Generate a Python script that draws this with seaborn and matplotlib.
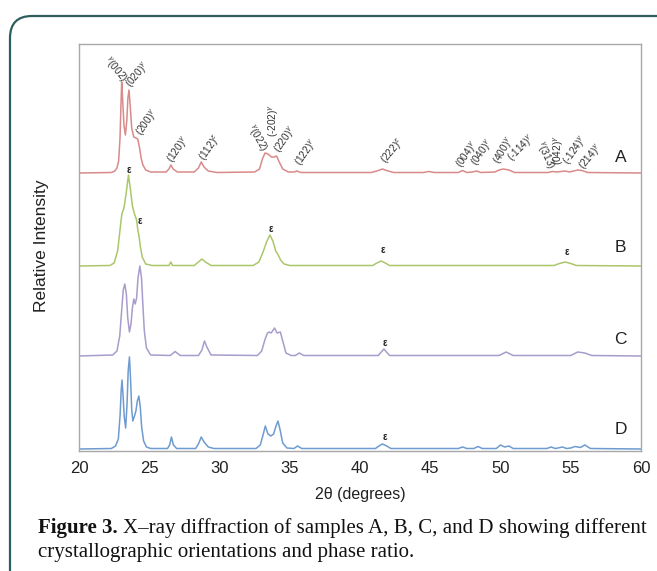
import matplotlib
matplotlib.use("Agg")
import matplotlib.pyplot as plt
from matplotlib.patches import FancyBboxPatch
import seaborn as sns
import pandas as pd

sns.set_theme(style="white")
plt.rcParams['font.family'] = ['Liberation Sans', 'DejaVu Sans']

# ---------------- data ----------------
samples = ["A", "B", "C", "D"]
offsets = [278, 185, 95, 2]          # vertical stacking offset of each pattern
colors = ["#d98a8a", "#acc66a", "#a89ccb", "#6e9bd0"]

A_x = [20, 22.3, 22.55, 22.7, 22.82, 22.92, 22.98, 23.04, 23.1, 23.2, 23.3, 23.4, 23.48, 23.56, 23.64,
       23.75, 23.9, 24.05, 24.18, 24.3, 24.42, 24.55, 24.75, 25.1,
       26.2, 26.4, 26.54, 26.7, 27.0, 28.2, 28.5, 28.7, 28.9, 29.2, 29.8, 32.5, 32.85, 33.05, 33.24,
       33.45, 33.7, 33.9, 34.06, 34.25, 34.5, 34.9, 35.3, 35.5, 35.8, 40.8, 41.2, 41.6, 42.0, 42.4,
       44.5, 44.9, 45.3, 47.0, 47.3, 47.6, 48.0, 48.3, 48.6, 49.6, 49.9, 50.2, 50.6, 51.0, 53.4,
       53.7, 54.0, 54.3, 54.6, 54.9, 55.2, 55.5, 55.8, 56.2, 60]
A_y = [0, 0.5, 2, 5, 12, 35, 65, 91, 75, 48, 38, 52, 75, 83, 68, 45, 36, 35, 34, 26, 15, 8, 3, 1,
       1, 4, 8, 4, 1, 1, 5, 11, 6, 2, 0.5, 1, 4, 14, 20, 19, 16, 16, 17, 11, 4, 1, 1, 2, 0.5,
       0.5, 2, 4, 2, 0.5, 0.5, 1.5, 0.5, 0.5, 2.5, 0.5, 1, 2, 0.5, 1, 3, 4, 3, 0.5, 0.5,
       1.5, 1, 1.5, 2, 1, 2, 3, 2.5, 0.5, 0]

B_x = [20, 22.2, 22.5, 22.75, 22.95, 23.05, 23.2, 23.35, 23.52, 23.65, 23.8, 23.95, 24.1, 24.2, 24.28,
       24.36, 24.5, 24.75, 25.2, 26.4, 26.54, 26.65, 28.2, 28.5, 28.75, 29.0, 29.4, 32.4, 32.8, 33.1, 33.35,
       33.59, 33.8, 34.0, 34.18, 34.35, 34.6, 35.0, 40.9, 41.2, 41.5, 41.8, 42.1, 53.8, 54.2, 54.6, 55.0,
       55.4, 60]
B_y = [0, 0.5, 3, 15, 40, 52, 58, 72, 91, 78, 60, 52, 46, 35, 29, 20, 9, 2, 0.5, 0.5, 4, 0.5, 0.5, 4, 7,
       4, 0.5, 0.5, 4, 14, 24, 31, 25, 15, 11, 6, 2, 0.5, 0.5, 3, 5, 3, 0.5, 0.5, 2.5, 4, 2.5, 0.5, 0]

C_x = [20, 22.4, 22.7, 22.9, 23.05, 23.15, 23.26, 23.37, 23.47, 23.59, 23.7, 23.8, 23.9, 24.0, 24.1,
       24.2, 24.33, 24.45, 24.55, 24.65, 24.8, 25.1,
       26.5, 26.84, 27.2, 28.5, 28.75, 28.93, 29.1, 29.4, 32.7, 33.0, 33.25, 33.42, 33.55,
       33.68, 33.92, 34.1, 34.33, 34.5, 34.73, 35.1, 35.4, 35.68, 36.0, 41.3, 41.7, 42.1, 49.9, 50.4, 50.9,
       55.0, 55.5, 56.0, 56.5, 60]
C_y = [0, 1, 5, 20, 48, 66, 72, 62, 38, 24, 32, 48, 57, 52, 58, 78, 90, 78, 50, 25, 8, 1,
       0.5, 4.5, 0.5, 0.5, 6, 15, 9, 1, 0.5, 5, 17, 23, 24, 23, 28, 23, 24, 15, 3, 0.5, 0.5, 3,
       0.5, 0.5, 7, 0.5, 0.5, 4, 0.5, 0.5, 4, 3, 0.5, 0]

D_x = [20, 22.3, 22.6, 22.8, 22.93, 23.0, 23.06, 23.13, 23.22, 23.32, 23.42, 23.5, 23.59, 23.67, 23.75,
       23.83, 23.95, 24.05, 24.15, 24.26, 24.36, 24.46, 24.6, 24.8, 25.1,
       26.3, 26.45, 26.58, 26.72, 26.95, 28.3, 28.5, 28.7, 28.9, 29.2,
       29.6, 32.6, 32.9, 33.1, 33.26, 33.45, 33.65, 33.85, 34.0, 34.16, 34.3, 34.5, 34.8, 35.3, 35.56,
       35.85, 41.1, 41.35, 41.6, 41.9, 42.2, 47.0, 47.3, 47.6, 48.1, 48.4, 48.7, 49.7, 50.0, 50.3, 50.6,
       50.9, 53.3, 53.6, 53.9, 54.1, 54.4, 54.7, 55.0, 55.3, 55.7, 56.0, 56.4, 60]
D_y = [0, 0.5, 3, 10, 35, 58, 69, 55, 32, 21, 45, 78, 92, 70, 40, 28, 33, 38, 48, 53, 42, 22, 8, 2, 0.5,
       0.5, 4, 12, 4, 0.5, 0.5, 5, 12, 7, 2, 0.5, 0.5, 4, 14, 23, 15, 13, 15, 22, 28, 20, 6, 1, 0.5, 3,
       0.5, 0.5, 3, 5, 3, 0.5, 0.5, 2, 0.5, 0.5, 2.5, 0.5, 0.5, 4, 2, 3, 0.5, 0.5, 2, 0.5, 1, 2, 0.5,
       1, 2.5, 1.5, 4, 0.5, 0]

# Miller-index labels on pattern A: (text, 2theta, height, rotation)
peak_labels = [r"$^{\gamma}$(002)", r"(020)$^{\gamma}$", r"(200)$^{\gamma}$", r"(120)$^{\gamma}$",
               r"(112)$^{\varepsilon}$", r"$^{\gamma}$(022)", r"(-202)$^{\gamma}$", r"(220)$^{\gamma}$",
               r"(122)$^{\gamma}$", r"(222)$^{\varepsilon}$", r"(004)$^{\gamma}$", r"(040)$^{\gamma}$",
               r"(400)$^{\gamma}$", r"(-114)$^{\gamma}$", r"$^{\gamma}$(313)", r"(042)$^{\gamma}$",
               r"(-124)$^{\gamma}$", r"(214)$^{\gamma}$"]
peak_label_x = [22.57, 24.2, 24.92, 27.13, 29.34, 32.62, 33.83, 34.68, 36.18, 42.31, 47.65, 48.72,
                50.29, 51.5, 53.14, 54.14, 55.35, 56.42]
peak_label_y = [381, 376, 328, 301, 303, 313, 331, 311, 298, 300, 296, 298, 301, 303, 296, 301, 301, 294]
peak_label_rot = [-50, 50, 55, 55, 55, -60, 90, 55, 55, 50, 55, 55, 60, 45, -65, 90, 55, 50]

# epsilon phase markers on B, C, D
eps_x = [23.56, 24.35, 33.68, 41.6, 54.71, 41.81, 41.81]
eps_y = [281, 230, 222, 201, 199, 108, 14]

label_x = 58.56
label_y = [294, 203, 112, 21]

# ---------------- build long-form table ----------------
xs = [A_x, B_x, C_x, D_x]
ys = [A_y, B_y, C_y, D_y]
frames = []
for s, x, y, off in zip(samples, xs, ys, offsets):
    assert len(x) == len(y), (s, len(x), len(y))
    frames.append(pd.DataFrame({"two_theta": x, "intensity": [v + off for v in y], "sample": s}))
df = pd.concat(frames, ignore_index=True)

# ---------------- figure ----------------
fig = plt.figure(figsize=(6.57, 5.71), dpi=100)

# rounded frame behind everything (pixel coordinates)
bg = fig.add_axes([0, 0, 1, 1], zorder=0)
bg.set_xlim(0, 657)
bg.set_ylim(571, 0)
bg.axis("off")
bg.add_patch(FancyBboxPatch((10, 16), 720, 620, boxstyle="round,pad=0,rounding_size=22",
                            facecolor="white", edgecolor="#2d5e5c", linewidth=1.6))

ax = fig.add_axes([79 / 657, 1 - 451 / 571, 562 / 657, 407 / 571], zorder=1)
sns.lineplot(data=df, x="two_theta", y="intensity", hue="sample", palette=colors,
             estimator=None, sort=False, legend=False, linewidth=1.1, ax=ax)

ax.set_xlim(20, 60)
ax.set_ylim(0, 407)
ax.set_xticks([20, 25, 30, 35, 40, 45, 50, 55, 60])
ax.set_yticks([])
ax.tick_params(axis="x", direction="in", length=3, color="#999999", pad=7,
               labelsize=12, labelcolor="#222222")
for sp in ax.spines.values():
    sp.set_color("#a8a8a8")
    sp.set_linewidth(1.0)

ax.set_xlabel("2θ (degrees)", fontsize=11.5, color="#222222", va="center")
ax.xaxis.set_label_coords(0.5, (451 - 494) / 407)
ax.set_ylabel("Relative Intensity", fontsize=12.5, color="#222222", va="center")
ax.yaxis.set_label_coords((42 - 79) / 562, 0.504)

for t, x, y, r in zip(peak_labels, peak_label_x, peak_label_y, peak_label_rot):
    ax.text(x, y, t, fontsize=7.2, color="#333333", rotation=r, rotation_mode="anchor",
            ha="center", va="center")

for x, y in zip(eps_x, eps_y):
    ax.text(x, y, "ε", fontsize=7, color="#222222", ha="center", va="center", fontweight="bold")

for s, y in zip(samples, label_y):
    ax.text(label_x, y, s, fontsize=12.5, color="#222222", ha="center", va="center")

# caption
serif = ['Liberation Serif', 'DejaVu Serif']
t1 = fig.text(38 / 657, 1 - 528 / 571, "Figure 3.", fontsize=15, fontweight="bold",
              family=serif, ha="left", va="center", color="#111111")
fig.canvas.draw()
bb = t1.get_window_extent(renderer=fig.canvas.get_renderer())
fig.text(bb.x1 / fig.bbox.width + 5 / 657, 1 - 528 / 571,
         "X–ray diffraction of samples A, B, C, and D showing different",
         fontsize=15, family=serif, ha="left", va="center", color="#111111")
fig.text(38 / 657, 1 - 553 / 571, "crystallographic orientations and phase ratio.",
         fontsize=15, family=serif, ha="left", va="center", color="#111111")

fig.savefig("out.png", dpi=100)
